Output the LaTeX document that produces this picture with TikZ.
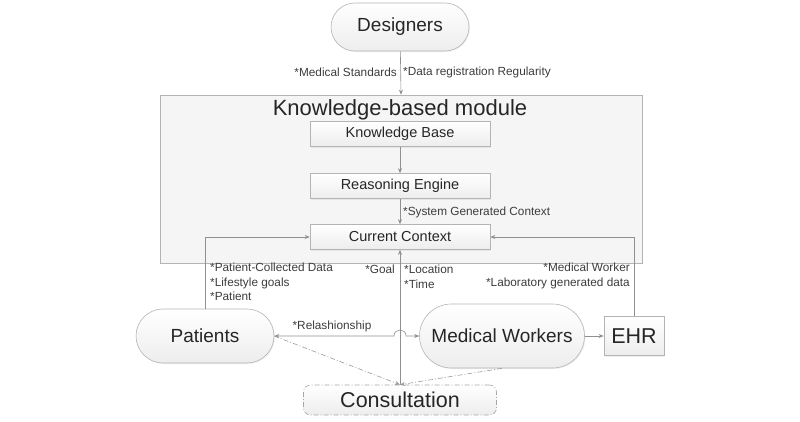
\documentclass[tikz,border=0pt]{standalone}
\usepackage{fontspec}
\setmainfont{Liberation Sans}
\usetikzlibrary{arrows.meta,shadows}
\definecolor{linec}{HTML}{909090}
\definecolor{borderc}{HTML}{B4B4B4}
\definecolor{txtc}{HTML}{262626}
\definecolor{lblc}{HTML}{3C3C3C}
\definecolor{modfill}{HTML}{F5F5F5}
\definecolor{boxbot}{HTML}{EDEDED}
\tikzset{
  every node/.style={text=txtc},
  conn/.style={draw=linec, line width=0.6pt, -{Stealth[length=5pt,width=4pt]}},
  dconn/.style={draw=linec!90, line width=0.6pt, dash pattern=on 5pt off 2pt on 1pt off 2pt, -{Stealth[length=5pt,width=4pt]}},
  boxfill/.style={top color=white, bottom color=boxbot, draw=borderc, line width=0.6pt,
     drop shadow={opacity=0.12, shadow xshift=1pt, shadow yshift=-1pt}},
  pill/.style={boxfill, rectangle, inner sep=0pt},
  innerbox/.style={boxfill, rectangle, minimum width=180pt, minimum height=25pt, inner sep=0pt, font=\fontsize{14.5}{17}\selectfont},
  lbl/.style={text=lblc, font=\fontsize{11.8}{14.6}\selectfont, inner sep=0pt},
}
\begin{document}
\begin{tikzpicture}[x=1pt,y=-1pt]
\useasboundingbox (0,0) rectangle (800,421);
% module
\node[draw=borderc, fill=modfill, line width=0.6pt, minimum width=482pt, minimum height=168pt, inner sep=0pt] (module) at (401,179) {};
\node[font=\fontsize{22}{26}\selectfont, inner sep=0pt] (title) at (400,110) {Knowledge-based module};
% nodes
\node[pill, rounded corners=24pt, minimum width=138pt, minimum height=48pt, font=\fontsize{19}{22}\selectfont] (des) at (400,27) {Designers};
\node[innerbox] (kb) at (400,134) {Knowledge Base};
\node[innerbox] (re) at (400,186) {Reasoning Engine};
\node[innerbox] (cc) at (400,237) {Current Context};
\node[pill, rounded corners=27pt, minimum width=138pt, minimum height=54pt, font=\fontsize{19}{22}\selectfont] (pat) at (205,336) {Patients};
\node[pill, rounded corners=32pt, minimum width=165pt, minimum height=64pt, font=\fontsize{19}{22}\selectfont] (mw) at (502,336) {Medical Workers};
\node[pill, minimum width=60pt, minimum height=39pt, font=\fontsize{21.5}{25}\selectfont] (ehr) at (634,336) {EHR};
\node[top color=white, bottom color=boxbot, draw=linec!80, line width=0.6pt, dash pattern=on 5pt off 2pt on 1pt off 2pt, rounded corners=7pt, minimum width=193pt, minimum height=30pt, inner sep=0pt, font=\fontsize{21.5}{25}\selectfont] (cons) at (400,400) {Consultation};
% connectors
\draw[conn] (des) -- (module.north);
\draw[conn] (kb) -- (re);
\draw[conn] (re) -- (cc);
\draw[conn] (pat.north) |- (cc.west);
\draw[conn] (ehr.north) |- (cc.east);
\draw[conn] (cons.north) -- (cc.south);
\draw[conn] (mw) -- (ehr);
\draw[draw=linec, line width=0.6pt, {Stealth[length=5pt,width=4pt]}-{Stealth[length=5pt,width=4pt]}]
  (pat.east) -- (394,336) .. controls (394,328) and (406,328) .. (406,336) -- (mw.west);
\draw[dconn] (pat.east) -- (cons.north);
\draw[dconn] (mw.south) -- (cons.north);
% labels
\node[lbl, anchor=east] (l1) at (397,72) {*Medical Standards};
\node[lbl, anchor=west] (l2) at (403,72) {*Data registration Regularity};
\node[lbl, anchor=west] (l3) at (403,212) {*System Generated Context};
\node[lbl, anchor=north west, align=left] (l4) at (210,263) {*Patient-Collected Data\\*Lifestyle goals\\*Patient};
\node[lbl, anchor=north east] (l5) at (395,265) {*Goal};
\node[lbl, anchor=north west, align=left] (l6) at (404,265) {*Location\\*Time};
\node[lbl, anchor=north east, align=right] (l7) at (630,263) {*Medical Worker\\*Laboratory generated data};
\node[lbl] (l8) at (332,326) {*Relashionship};
\end{tikzpicture}
\end{document}
